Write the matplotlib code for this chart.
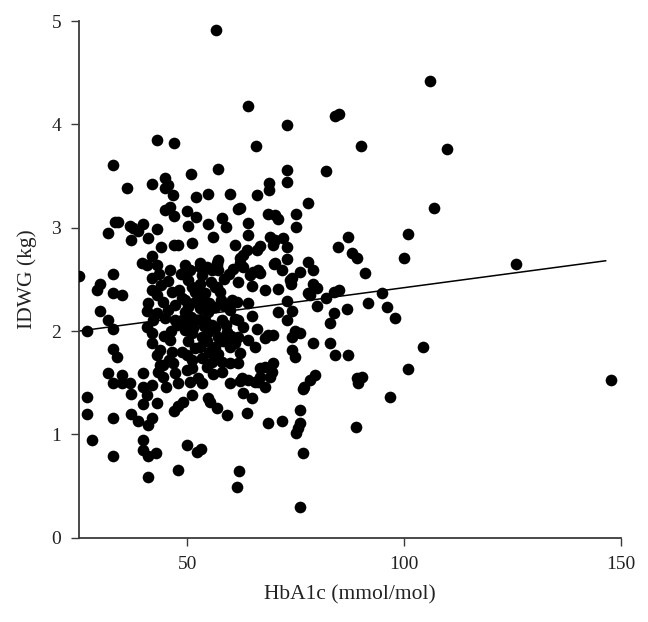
import matplotlib
matplotlib.use('Agg')
import matplotlib.pyplot as plt
import numpy as np

# HbA1c (mmol/mol) and IDWG (kg)
hba1c = [
    # sparse / outliers
    56.6, 63.9, 72.9, 84.0, 85.0, 105.9, 43.0, 46.9, 65.8, 90.0, 109.8, 32.8, 57.0, 72.9,
    81.9, 50.8, 72.9, 68.8, 68.8, 66.0, 77.8, 106.8, 100.8, 99.9, 125.9, 147.8, 100.8, 96.7,
    104.4, 88.8, 75.9, 61.4, 61.9, 47.8, 40.9, 28.0, 32.8, 25.0, 26.8, 26.8, 26.8,
    # upper left
    36.1, 41.8, 44.8, 45.5, 44.8, 46.7, 52.0, 54.7, 59.8, 61.6, 44.8, 46.0, 46.9, 50.0,
    52.0, 33.3, 34.0, 31.7, 36.8, 37.5, 38.6, 39.7, 37.0, 40.9, 43.0, 43.9, 46.9, 47.8,
    50.1, 51.0, 54.7, 55.9, 57.9, 58.9, 61.0, 62.1, 63.9, 63.9, 68.5, 70.2, 70.9, 75.0,
    75.0, 69.0, 72.0, 66.7, 69.7, 72.9, 87.0, 84.7,
    # middle right
    87.9, 89.1, 90.9, 84.9, 83.8, 94.8, 91.6, 96.0, 97.8, 86.8, 83.8, 82.8, 81.9, 79.8,
    77.8, 78.9, 80.0, 78.9, 77.8, 75.9, 74.1, 73.8, 72.9, 69.9, 70.9, 67.9, 72.9, 63.9,
    70.9, 74.1, 72.9, 64.9, 74.8, 75.9, 74.1, 66.0, 68.5, 69.7, 67.9, 78.9, 82.8, 84.0,
    87.0, 74.1, 74.8, 69.7, 66.7, 67.9, 79.4, 78.3, 89.1, 90.4, 89.3, 76.8, 69.0, 63.9,
    65.5, 62.1, 69.5,
    63.7, 62.8, 70.2, 62.1, 62.8, 65.1, 66.2, 66.7, 64.4, 61.6, 64.9, 73.6, 61.4, 61.6,
    62.8, 61.6, 63.9, 65.5, 62.1, 66.2, 62.6,
    # lower
    62.8, 64.9, 63.7, 68.5, 71.8, 76.6, 75.9, 75.9, 75.5, 75.0, 76.6, 66.7, 67.9,
    32.8, 37.0, 38.6, 40.9, 41.8, 39.7, 39.7, 40.9, 42.7, 50.0, 52.2, 53.1, 59.1, 37.0,
    39.7, 43.0, 39.7, 40.7, 46.9, 47.8, 49.0, 51.0, 54.7, 55.2, 56.8, 47.8, 50.6, 53.3,
    59.8, 45.0, 41.8, 32.8, 34.9, 36.8,
    # left cluster
    29.1, 29.8, 32.8, 32.8, 34.9, 29.8, 31.7, 32.8, 32.8, 33.8, 31.7, 34.9, 39.7, 40.7,
    39.5, 43.0, 46.0, 41.8, 41.8, 43.0, 40.9, 44.4, 40.7, 43.0, 42.1, 44.8, 40.7, 41.8,
    41.8, 46.0, 43.7, 46.4, 43.0, 43.7, 44.4, 43.2, 46.7, 47.1, 47.1, 47.6, 48.7, 49.4,
    50.6, 51.3, 52.9, 51.0, 53.3, 54.7, 56.3, 57.9, 59.8, 61.0, 59.1, 57.0, 58.2, 59.8,
    61.0, 56.3, 54.5, 52.9, 51.7, 50.1, 50.0, 51.0, 53.3, 55.6, 57.9, 59.8, 61.6, 54.5,
    51.0, 44.4,
    # dense core
    49.4, 49.0, 50.1, 52.9, 53.3, 55.6, 56.8, 57.0, 52.9, 51.0, 51.7, 54.0, 56.3, 60.3,
    51.7, 50.1, 48.7, 47.1, 49.4, 52.9, 54.7, 56.3, 58.2, 54.0, 55.6, 41.8,
    50.6, 52.9, 52.4, 54.5, 52.9, 57.0, 56.8, 56.8, 62.1, 66.0, 70.2, 71.8, 78.3,
    48.0, 49.5, 53.5, 55.0, 57.5, 58.5, 59.5, 60.5, 45.5, 46.5, 48.5, 55.5, 57.8, 59.0,
    60.0, 53.8, 50.8, 46.3, 44.0, 44.5, 45.8, 48.8, 49.8, 52.5, 56.0, 58.0, 57.0, 55.0,
    45.5, 43.5,
]
idwg = [
    4.91, 4.18, 3.99, 4.08, 4.10, 4.42, 3.85, 3.82, 3.79, 3.79, 3.76, 3.61, 3.57, 3.56,
    3.55, 3.52, 3.44, 3.43, 3.36, 3.32, 3.24, 3.19, 2.94, 2.71, 2.65, 1.53, 1.63, 1.36,
    1.85, 1.07, 0.30, 0.49, 0.65, 0.66, 0.59, 0.95, 0.79, 2.53, 2.00, 1.36, 1.20,
    3.38, 3.42, 3.48, 3.41, 3.38, 3.32, 3.30, 3.33, 3.33, 3.18, 3.17, 3.20, 3.11, 3.16,
    3.10, 3.06, 3.06, 2.95, 3.02, 3.00, 2.97, 3.04, 2.88, 2.90, 2.99, 2.81, 2.83, 2.83,
    3.02, 2.85, 3.04, 2.91, 3.09, 3.01, 2.83, 3.19, 3.05, 2.93, 3.13, 3.12, 3.08, 3.13,
    3.01, 2.91, 2.90, 2.82, 2.83, 2.81, 2.91, 2.81,
    2.76, 2.71, 2.56, 2.40, 2.38, 2.37, 2.27, 2.23, 2.13, 2.21, 2.17, 2.08, 2.32, 2.24,
    2.37, 2.46, 2.42, 2.59, 2.67, 2.57, 2.51, 2.46, 2.70, 2.65, 2.41, 2.40, 2.29, 2.27,
    2.18, 2.19, 2.11, 2.15, 2.00, 1.98, 1.94, 2.02, 1.96, 1.96, 1.93, 1.88, 1.88, 1.77,
    1.77, 1.82, 1.75, 1.69, 1.64, 1.65, 1.57, 1.53, 1.55, 1.56, 1.50, 1.46, 1.56, 1.53,
    1.51, 1.52, 1.60,
    2.78, 2.74, 2.66, 2.66, 2.62, 2.57, 2.59, 2.56, 2.54, 2.47, 2.44, 2.49, 2.28, 2.11,
    2.04, 1.94, 1.91, 1.85, 1.79, 1.51, 1.55,
    1.40, 1.35, 1.21, 1.11, 1.13, 1.44, 1.24, 1.11, 1.06, 1.01, 0.82, 1.56, 1.46,
    1.16, 1.20, 1.13, 1.09, 1.16, 0.95, 0.85, 0.79, 0.82, 0.90, 0.83, 0.86, 1.19, 1.39,
    1.29, 1.30, 1.46, 1.38, 1.23, 1.27, 1.31, 1.38, 1.35, 1.31, 1.26, 1.50, 1.51, 1.50,
    1.50, 1.46, 1.48, 1.50, 1.50, 1.50,
    2.40, 2.46, 2.55, 2.37, 2.35, 2.19, 2.11, 2.02, 1.83, 1.75, 1.59, 1.57, 1.59, 2.64,
    2.66, 2.64, 2.59, 2.51, 2.40, 2.35, 2.27, 2.28, 2.19, 2.17, 2.11, 2.13, 2.04, 1.98,
    1.88, 1.91, 1.82, 1.80, 1.77, 1.67, 1.67, 1.60, 1.69, 1.59, 2.11, 2.06, 2.11, 2.01,
    2.08, 2.03, 2.11, 1.98, 1.94, 1.99, 2.03, 2.11, 2.20, 2.12, 1.99, 1.94, 1.90, 1.85,
    1.88, 1.85, 1.90, 1.85, 1.84, 1.90, 1.77, 1.72, 1.74, 1.70, 1.70, 1.69, 1.69, 1.65,
    1.64, 1.56,
    2.64, 2.56, 2.49, 2.62, 2.54, 2.59, 2.64, 2.69, 2.46, 2.43, 2.38, 2.37, 2.43, 2.30,
    2.28, 2.23, 2.32, 2.25, 2.18, 2.22, 2.18, 2.23, 2.25, 2.11, 2.06, 2.73,
    2.59, 2.66, 2.40, 2.62, 2.30, 2.59, 2.43, 2.66, 2.71, 2.78, 2.88, 2.59, 2.35,
    2.40, 2.30, 2.33, 2.27, 2.38, 2.50, 2.55, 2.60, 2.48, 2.38, 2.55, 2.47, 2.30, 2.06,
    1.95, 2.05, 2.14, 2.00, 2.45, 1.95, 1.72, 1.80, 1.62, 1.55, 1.58, 1.60, 1.78, 1.80,
    2.20, 2.55,
]

# fitted regression line, endpoints
fit_x = [25, 146.5]
fit_y = [2.00, 2.68]

plt.rcParams['font.family'] = ['Liberation Serif', 'DejaVu Serif']

fig = plt.figure(figsize=(6.48, 6.22), dpi=100, facecolor='white')
ax = fig.add_axes([0.122, 0.1355, 0.836, 0.8307])

ax.plot(hba1c, idwg, 'o', color='black', markersize=8.4, markeredgewidth=0, zorder=3)
ax.plot(fit_x, fit_y, color='black', linewidth=1.1, zorder=2)

ax.set_xlim(25, 150)
ax.set_ylim(0, 5)
ax.set_xticks([50, 100, 150])
ax.set_yticks([0, 1, 2, 3, 4, 5])

for s in ['top', 'right']:
    ax.spines[s].set_visible(False)
for s in ['left', 'bottom']:
    ax.spines[s].set_color('#3a3a3a')
    ax.spines[s].set_linewidth(1.3)

ax.tick_params(axis='both', direction='out', length=6, width=1.0, color='#3a3a3a',
               labelsize=14, labelcolor='#222222', pad=7)

ax.set_xlabel('HbA1c (mmol/mol)', fontsize=15.5, color='#222222', labelpad=9)
ax.set_ylabel('IDWG (kg)', fontsize=15.5, color='#222222', labelpad=10)

plt.savefig('out.png', dpi=100, facecolor='white')
